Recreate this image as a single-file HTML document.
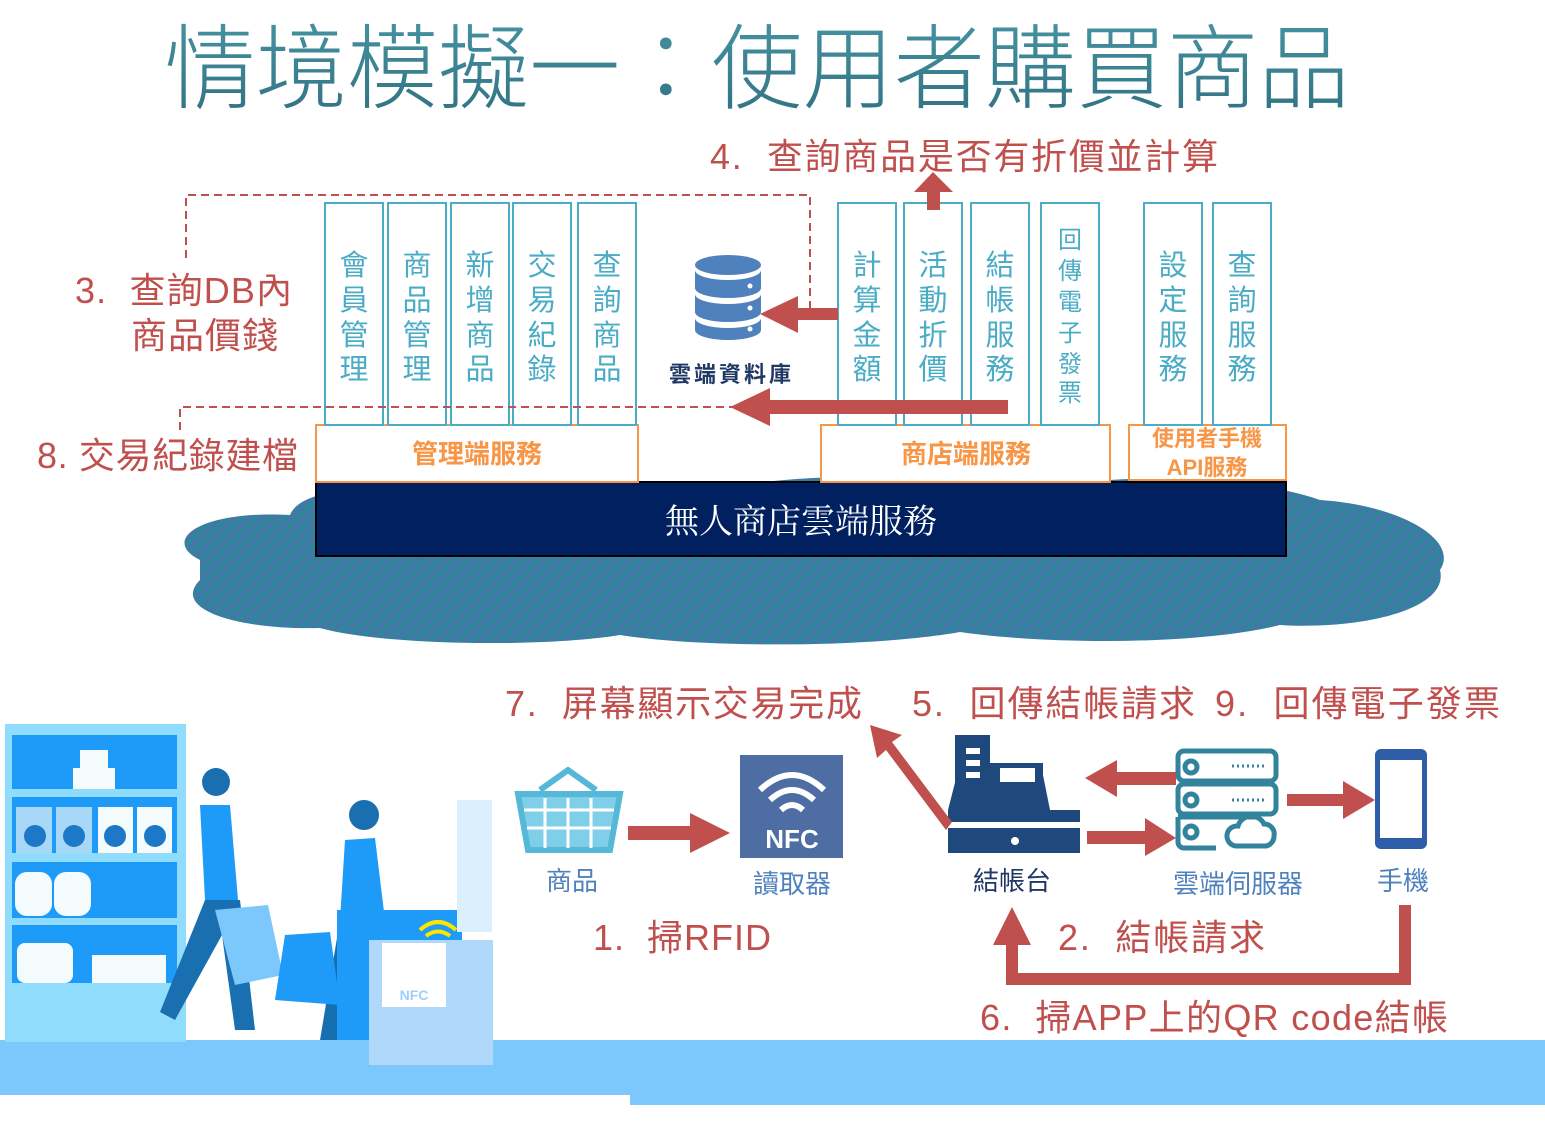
<!DOCTYPE html>
<html><head><meta charset="utf-8"><style>
body{margin:0;background:#fff}
svg{display:block}
text{font-family:"Liberation Sans","Noto Sans CJK TC",sans-serif}
</style></head><body>
<svg width="1545" height="1128" viewBox="0 0 1545 1128" xmlns="http://www.w3.org/2000/svg">
<defs>
<pattern id="hatch" width="10" height="10" patternUnits="userSpaceOnUse" patternTransform="rotate(45)">
<rect width="10" height="10" fill="#31849b"/><rect width="4" height="10" fill="#4f6fb0" opacity="0.7"/>
</pattern>
<linearGradient id="tg" x1="0" x2="0" y1="0" y2="1"><stop offset="0" stop-color="#4a9aa8"/><stop offset="1" stop-color="#2f6f80"/></linearGradient>
</defs>

<text x="757" y="101" font-size="92" fill="url(#tg)" text-anchor="middle" style="font-family:'Noto Sans CJK TC',sans-serif;font-weight:300" textLength="1185" lengthAdjust="spacingAndGlyphs">情境模擬一：使用者購買商品</text>

<path d="M200,560 C160,540 200,510 290,515 C300,490 360,485 420,495 C500,470 650,478 720,490 C800,470 950,475 1040,490 C1120,470 1260,478 1320,500 C1400,505 1460,540 1440,570 C1450,610 1360,630 1280,625 C1200,645 1050,645 960,632 C870,648 700,648 620,635 C540,648 380,645 320,628 C240,630 170,610 200,580 Z" fill="url(#hatch)"/>

<rect x="316" y="482" width="970" height="74" fill="#002060" stroke="#000" stroke-width="2"/>
<text x="801" y="533" font-size="34" fill="#fff" text-anchor="middle" style="font-family:'Noto Serif CJK SC',serif">無人商店雲端服務</text>

<g fill="#fff" stroke="#f79646" stroke-width="2">
<rect x="316" y="425" width="322" height="57"/>
<rect x="821" y="425" width="289" height="57"/>
<rect x="1129" y="425" width="157" height="55"/>
</g>
<g fill="#f79646" font-weight="bold" text-anchor="middle">
<text x="477" y="463" font-size="26">管理端服務</text>
<text x="966" y="463" font-size="26">商店端服務</text>
<text x="1207" y="446" font-size="22">使用者手機</text>
<text x="1207" y="475" font-size="22">API服務</text>
</g>

<g fill="#fff" stroke="#4bacc6" stroke-width="2">
<rect x="325" y="203" width="58" height="222"/><rect x="388" y="203" width="58" height="222"/>
<rect x="451" y="203" width="58" height="222"/><rect x="513" y="203" width="58" height="222"/>
<rect x="578" y="203" width="58" height="222"/>
<rect x="838" y="203" width="58" height="222"/><rect x="904" y="203" width="58" height="222"/>
<rect x="971" y="203" width="58" height="222"/><rect x="1041" y="203" width="58" height="222"/>
<rect x="1144" y="203" width="58" height="222"/><rect x="1213" y="203" width="58" height="222"/>
</g>
<g fill="#4bacc6" font-size="29" text-anchor="middle">
<text x="354" y="275">會</text><text x="354" y="310">員</text><text x="354" y="345">管</text><text x="354" y="379">理</text>
<text x="417" y="275">商</text><text x="417" y="310">品</text><text x="417" y="345">管</text><text x="417" y="379">理</text>
<text x="480" y="275">新</text><text x="480" y="310">增</text><text x="480" y="345">商</text><text x="480" y="379">品</text>
<text x="542" y="275">交</text><text x="542" y="310">易</text><text x="542" y="345">紀</text><text x="542" y="379">錄</text>
<text x="607" y="275">查</text><text x="607" y="310">詢</text><text x="607" y="345">商</text><text x="607" y="379">品</text>
<text x="867" y="275">計</text><text x="867" y="310">算</text><text x="867" y="345">金</text><text x="867" y="379">額</text>
<text x="933" y="275">活</text><text x="933" y="310">動</text><text x="933" y="345">折</text><text x="933" y="379">價</text>
<text x="1000" y="275">結</text><text x="1000" y="310">帳</text><text x="1000" y="345">服</text><text x="1000" y="379">務</text>
<text x="1173" y="275">設</text><text x="1173" y="310">定</text><text x="1173" y="345">服</text><text x="1173" y="379">務</text>
<text x="1242" y="275">查</text><text x="1242" y="310">詢</text><text x="1242" y="345">服</text><text x="1242" y="379">務</text>
</g>
<g fill="#4bacc6" font-size="24" text-anchor="middle">
<text x="1070" y="248">回</text><text x="1070" y="279">傳</text><text x="1070" y="310">電</text><text x="1070" y="341">子</text><text x="1070" y="372">發</text><text x="1070" y="401">票</text>
</g>

<g fill="none" stroke="#c0504d" stroke-width="2" stroke-dasharray="8,5">
<path d="M186,258 V195 H810 V308"/>
<path d="M180,430 V407 H760"/>
</g>

<g fill="#4f81bd">
<ellipse cx="728" cy="265" rx="33" ry="10"/>
<path d="M695,270 v18 a33,10 0 0 0 66,0 v-18 a33,10 0 0 1 -66,0z"/>
<path d="M695,294 v18 a33,10 0 0 0 66,0 v-18 a33,10 0 0 1 -66,0z"/>
<path d="M695,318 v12 a33,10 0 0 0 66,0 v-12 a33,10 0 0 1 -66,0z"/>
</g>
<g fill="#fff"><circle cx="750" cy="286" r="2.5"/><circle cx="750" cy="308" r="2.5"/><circle cx="750" cy="329" r="2.5"/></g>
<text x="730" y="382" font-size="22" font-weight="bold" fill="#1f3864" text-anchor="middle" textLength="122">雲端資料庫</text>

<g fill="#c0504d">
<path d="M838,308 H798 V296 L760,314 L798,333 V320 H838Z"/>
<path d="M1008,400 H770 V388 L730,407 L770,426 V414 H1008Z"/>
<path d="M927,210 V192 H914 L933,172 L953,192 H940 V210Z"/>
</g>

<g fill="#c0504d" font-size="36" lengthAdjust="spacingAndGlyphs">
<text x="710" y="169" textLength="508">4.&#160;&#160;查詢商品是否有折價並計算</text>
<text x="75" y="303" textLength="217">3.&#160;&#160;查詢DB內</text>
<text x="131" y="348" textLength="147">商品價錢</text>
<text x="37" y="468" textLength="261">8. 交易紀錄建檔</text>
<text x="505" y="716" textLength="357">7.&#160;&#160;屏幕顯示交易完成</text>
<text x="912" y="716" textLength="283">5.&#160;&#160;回傳結帳請求</text>
<text x="1215" y="716" textLength="285">9.&#160;&#160;回傳電子發票</text>
<text x="593" y="950" textLength="178">1.&#160;&#160;掃RFID</text>
<text x="1058" y="950" textLength="207">2.&#160;&#160;結帳請求</text>
<text x="980" y="1030" textLength="468">6.&#160;&#160;掃APP上的QR code結帳</text>
</g>

<rect x="0" y="1040" width="1545" height="55" fill="#7cc7fb"/>
<rect x="630" y="1060" width="915" height="45" fill="#7cc7fb"/>

<rect x="5" y="724" width="181" height="318" fill="#90dcfc"/>
<rect x="12" y="735" width="165" height="54" fill="#1e9af8"/>
<rect x="12" y="797" width="165" height="56" fill="#1e9af8"/>
<rect x="12" y="862" width="165" height="56" fill="#1e9af8"/>
<rect x="12" y="925" width="165" height="58" fill="#1e9af8"/>
<g fill="#f4fbfd">
<rect x="73" y="768" width="42" height="21"/><rect x="80" y="750" width="28" height="18"/>
<rect x="16" y="807" width="36" height="46" fill="#a8d8f8"/><rect x="56" y="807" width="36" height="46" fill="#a8d8f8"/>
<rect x="98" y="807" width="35" height="46"/><rect x="137" y="807" width="35" height="46"/>
<rect x="15" y="872" width="37" height="44" rx="12"/><rect x="54" y="872" width="37" height="44" rx="12"/>
<rect x="17" y="943" width="56" height="40" rx="8"/><rect x="92" y="955" width="74" height="28"/>
</g>
<g fill="#1e78c8"><circle cx="35" cy="836" r="11"/><circle cx="74" cy="836" r="11"/><circle cx="115" cy="836" r="11"/><circle cx="155" cy="836" r="11"/></g>

<g>
<circle cx="216" cy="782" r="14" fill="#1a6fb0"/>
<path d="M200,805 L230,805 L238,900 L205,900Z" fill="#1e9af8"/>
<path d="M205,900 L240,900 L255,1030 L235,1030 L222,935 L175,1020 L160,1012Z" fill="#1a6fb0"/>
<path d="M215,910 L268,905 L283,975 L235,985Z" fill="#7cc7fb"/>
<circle cx="364" cy="815" r="15" fill="#1a6fb0"/>
<path d="M345,840 L375,838 L385,920 L340,920Z" fill="#1e9af8"/>
<path d="M340,920 L378,920 L345,1040 L320,1040Z" fill="#1670b0"/>
<path d="M285,935 L330,932 L340,1005 L275,1000Z" fill="#1e9af8"/>
<rect x="337" y="910" width="125" height="130" fill="#1e9af8"/>
<rect x="457" y="800" width="35" height="132" fill="#dbeffd"/>
<rect x="369" y="940" width="124" height="125" fill="#afd8fb"/>
<rect x="382" y="943" width="64" height="64" fill="#fff"/>
<text x="414" y="1000" font-size="14" font-weight="bold" fill="#9dd0fb" text-anchor="middle">NFC</text>
<path d="M420,930 q18,-16 36,0 M426,936 q12,-9 24,0" stroke="#ffe600" stroke-width="4" fill="none"/>
</g>

<g stroke="#56b8d8" stroke-width="6" fill="none">
<path d="M540,790 L568,770 L596,790"/>
<path d="M518,794 H620 L610,850 H528Z" fill="#7fcfe8"/>
</g>
<g stroke="#fff" stroke-width="3"><path d="M524,810 H614 M527,828 H611 M545,798 V848 M568,798 V848 M591,798 V848"/></g>
<text x="572" y="890" font-size="26" fill="#4f81bd" text-anchor="middle">商品</text>

<rect x="740" y="755" width="103" height="103" fill="#4e6ea3"/>
<path d="M760,790 q32,-30 64,0 M770,800 q22,-20 44,0 M781,810 q11,-10 22,0" stroke="#fff" stroke-width="6" fill="none"/>
<text x="792" y="848" font-size="26" font-weight="bold" fill="#fff" text-anchor="middle">NFC</text>
<text x="792" y="893" font-size="26" fill="#4f81bd" text-anchor="middle">讀取器</text>
<path d="M628,826 H690 V813 L730,833 L690,853 V840 H628Z" fill="#c0504d"/>

<g fill="#1f497d">
<rect x="955" y="735" width="35" height="55"/>
<path d="M960,763 H1043 V775 L1050,810 H948 Z"/>
<rect x="948" y="810" width="132" height="12"/>
<rect x="948" y="828" width="132" height="25"/>
</g>
<g fill="#fff"><rect x="966" y="748" width="14" height="6"/><rect x="966" y="760" width="14" height="6"/><rect x="966" y="772" width="14" height="6"/><rect x="1000" y="768" width="35" height="14"/><circle cx="1015" cy="841" r="4"/></g>
<text x="1012" y="890" font-size="26" fill="#1f3864" text-anchor="middle">結帳台</text>

<g stroke="#31849b" stroke-width="5" fill="none">
<rect x="1178" y="751" width="98" height="30" rx="6"/>
<rect x="1178" y="784" width="98" height="30" rx="6"/>
<path d="M1178,817 v25 a6,6 0 0 0 6,6 h32 M1178,817 h80"/>
<circle cx="1191" cy="767" r="6"/><circle cx="1191" cy="800" r="6"/><circle cx="1191" cy="832" r="6"/>
<path d="M1236,846 a10,10 0 0 1 2,-20 a14,14 0 0 1 26,-2 a10,10 0 0 1 10,12 a10,10 0 0 1 -8,10Z"/>
</g>
<g stroke="#31849b" stroke-width="3" stroke-dasharray="2,3"><path d="M1232,766 H1266 M1232,800 H1266"/></g>
<text x="1238" y="893" font-size="26" fill="#4f81bd" text-anchor="middle">雲端伺服器</text>

<rect x="1375" y="749" width="52" height="100" rx="6" fill="#2e5ea8"/>
<rect x="1380" y="760" width="42" height="78" fill="#fff"/>
<text x="1403" y="890" font-size="26" fill="#4f81bd" text-anchor="middle">手機</text>

<g fill="#c0504d">
<path d="M1176,772 H1117 V760 L1085,778 L1117,797 V785 H1176Z"/>
<path d="M1087,831 H1145 V818 L1176,838 L1145,856 V844 H1087Z"/>
<path d="M1287,794 H1343 V781 L1375,800 L1343,819 V806 H1287Z"/>
<path d="M952,822 L892,742 L902,735 L870,725 L877,758 L886,750 L946,830Z"/>
<path d="M1399,905 H1411 V985 H1006 V945 H993 L1012,907 L1031,945 H1018 V973 H1399Z"/>
</g>
</svg>
</body></html>
